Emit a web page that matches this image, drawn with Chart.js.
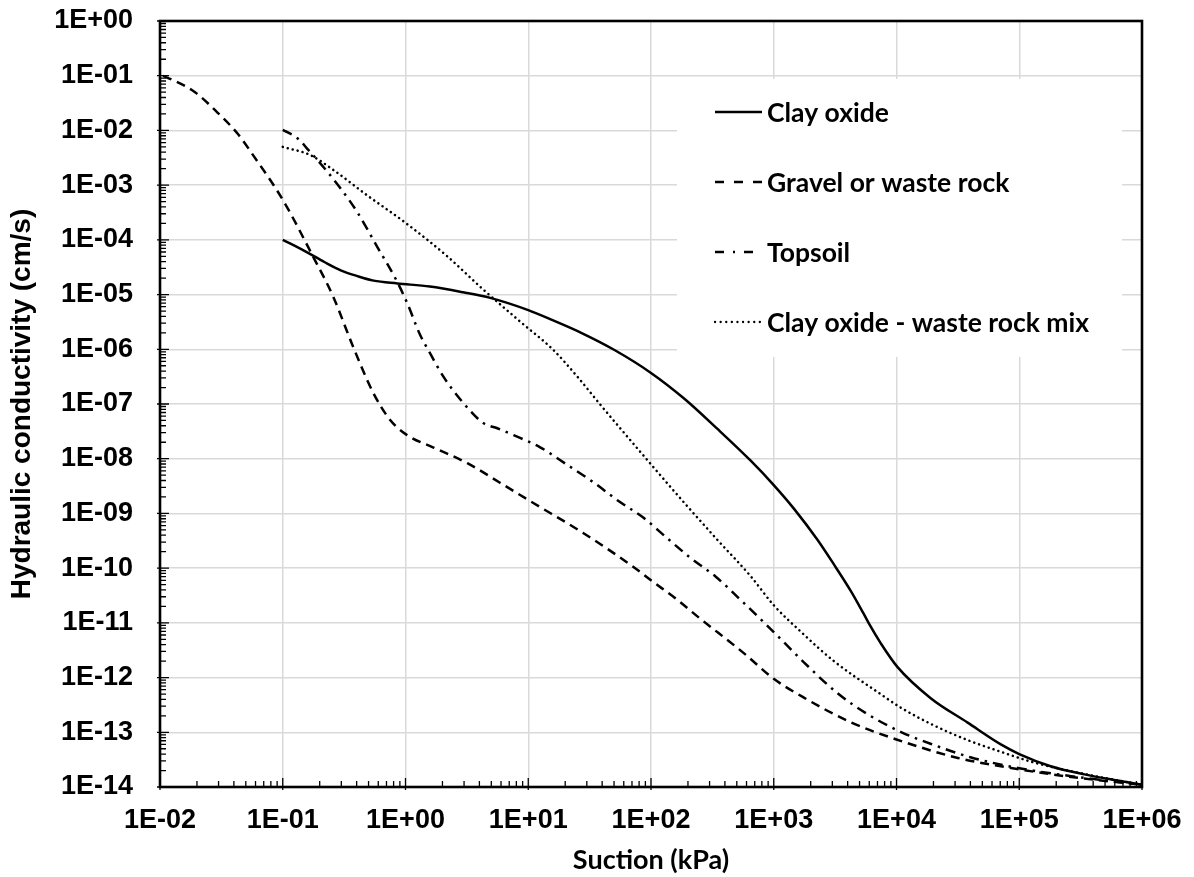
<!DOCTYPE html>
<html lang="en">
<head>
    <meta charset="UTF-8">
    <title>Hydraulic conductivity functions</title>
    <script src="https://cdn.jsdelivr.net/npm/chart.js"></script>
    <style>
        html, body { margin: 0; padding: 0; background: #fff; }
        #wrap { width: 1194px; height: 877px; }
    </style>
</head>
<body>
<div id="wrap"><canvas id="kChart" width="1194" height="877"></canvas></div>
<script>
    // suction (kPa) / hydraulic conductivity (cm/s)
    const claySuction = [0.1, 0.15, 0.22, 0.3, 0.4, 0.55, 0.857, 1.58, 2.95, 4.9, 10, 15.8, 27, 50, 100, 186, 348, 646, 1000, 1470, 2270, 3090, 4250, 5370, 6170, 7410, 10200, 19000, 38000, 70800, 100000, 180000, 340000, 650000, 1000000];
    const clayK = [1.0e-4, 6.3e-5, 3.9e-5, 2.75e-5, 2.2e-5, 1.8e-5, 1.6e-5, 1.4e-5, 1.1e-5, 8.7e-6, 5.2e-6, 3.4e-6, 2.0e-6, 9.8e-7, 3.7e-7, 1.26e-7, 3.5e-8, 9.3e-9, 3.3e-9, 1.2e-9, 3.3e-10, 1.17e-10, 3.8e-11, 1.5e-11, 8.5e-12, 4.3e-12, 1.55e-12, 4.2e-13, 1.5e-13, 6.0e-14, 4.0e-14, 2.4e-14, 1.7e-14, 1.3e-14, 1.1e-14];

    const gravelSuction = [0.0106, 0.0128, 0.0193, 0.0281, 0.0433, 0.0575, 0.1, 0.177, 0.258, 0.375, 0.546, 0.75, 1.03, 1.69, 3.19, 5.93, 11, 28, 72, 100, 165, 240, 570, 1000, 1760, 4300, 10000, 31600, 100000, 316000, 1000000];
    const gravelK = [0.099, 0.083, 0.05, 0.0234, 8.5e-3, 3.5e-3, 5.4e-4, 4.9e-5, 9.1e-6, 1.1e-6, 1.6e-7, 5.1e-8, 2.7e-8, 1.6e-8, 8.3e-9, 3.6e-9, 1.55e-9, 4.4e-10, 1.05e-10, 6.0e-11, 2.6e-11, 1.3e-11, 2.8e-12, 9.5e-13, 4.3e-13, 1.5e-13, 7.4e-14, 3.4e-14, 2.1e-14, 1.45e-14, 1.1e-14];

    const topsoilSuction = [0.1, 0.12, 0.139, 0.16, 0.184, 0.294, 0.405, 0.59, 0.857, 1.035, 1.32, 1.53, 2.03, 2.9, 4.3, 5.6, 7.6, 12.6, 21, 34, 54, 87, 136, 209, 339, 513, 1000, 1760, 3300, 5900, 11000, 20000, 40000, 100000, 316000, 1000000];
    const topsoilK = [0.0102, 8.3e-3, 6.5e-3, 4.5e-3, 3.2e-3, 8.9e-4, 3.2e-4, 7.4e-5, 1.7e-5, 6.9e-6, 1.8e-6, 9.8e-7, 3.2e-7, 1.1e-7, 4.5e-8, 3.6e-8, 2.7e-8, 1.6e-8, 7.6e-9, 3.7e-9, 1.7e-9, 8.3e-10, 3.5e-10, 1.55e-10, 6.9e-11, 2.9e-11, 6.8e-12, 1.9e-12, 5.2e-13, 2.1e-13, 1.0e-13, 5.9e-14, 3.5e-14, 2.2e-14, 1.5e-14, 1.1e-14];

    const mixSuction = [0.1, 0.1675, 0.258, 0.488, 1.0, 2.19, 4.07, 8.6, 15.8, 25, 39, 100, 186, 347, 646, 1000, 1660, 3090, 7410, 10900, 20400, 38000, 70800, 132000, 250000, 470000, 1000000];
    const mixK = [5.0e-3, 3.55e-3, 1.9e-3, 6.5e-4, 2.05e-4, 5.0e-5, 1.38e-5, 3.2e-6, 1.0e-6, 3.2e-7, 9.5e-8, 7.9e-9, 1.58e-9, 3.3e-10, 7.2e-11, 2.1e-11, 6.9e-12, 2.0e-12, 5.0e-13, 2.8e-13, 1.32e-13, 7.2e-14, 4.4e-14, 2.8e-14, 2.0e-14, 1.5e-14, 1.1e-14];

    const xTicks = [1e-2, 1e-1, 1e0, 1e1, 1e2, 1e3, 1e4, 1e5, 1e6];
    const xTickLabels = ['1E-02', '1E-01', '1E+00', '1E+01', '1E+02', '1E+03', '1E+04', '1E+05', '1E+06'];
    const yTicks = [1e-14, 1e-13, 1e-12, 1e-11, 1e-10, 1e-9, 1e-8, 1e-7, 1e-6, 1e-5, 1e-4, 1e-3, 1e-2, 1e-1, 1e0];
    const yTickLabels = ['1E-14', '1E-13', '1E-12', '1E-11', '1E-10', '1E-09', '1E-08', '1E-07', '1E-06', '1E-05', '1E-04', '1E-03', '1E-02', '1E-01', '1E+00'];

    const seriesNames = ['Clay oxide', 'Gravel or waste rock', 'Topsoil', 'Clay oxide - waste rock mix'];

    function pts(xs, ys) {
        return xs.map((x, i) => ({ x: x, y: ys[i] }));
    }

    const ARIAL = '"Liberation Sans", Arial, sans-serif';
    const CALIBRI = 'Lato, "Open Sans", sans-serif';

    // legend drawn inside the plot, on a white box that hides the grid
    const insideLegend = {
        id: 'insideLegend',
        beforeDatasetsDraw(chart) {
            const ctx = chart.ctx;
            ctx.save();
            ctx.fillStyle = '#fff';
            ctx.fillRect(677, 79, 1122 - 677, 357 - 79);
            ctx.font = 'bold 26.5px ' + CALIBRI;
            ctx.textBaseline = 'middle';
            chart.data.datasets.forEach((ds, i) => {
                const y = 112 + i * 70;
                ctx.beginPath();
                ctx.strokeStyle = '#000';
                ctx.lineWidth = 2.3;
                ctx.lineCap = ds.borderCapStyle || 'butt';
                ctx.setLineDash(ds.legendDash || []);
                ctx.moveTo(715, y);
                ctx.lineTo(762, y);
                ctx.stroke();
                ctx.setLineDash([]);
                ctx.fillStyle = '#000';
                ctx.fillText(ds.label, 767, y + 1);
            });
            ctx.restore();
        }
    };

    // frame round the plot plus major / minor tick marks pointing inwards
    const frameTicks = {
        id: 'frameTicks',
        afterDraw(chart) {
            const ctx = chart.ctx, a = chart.chartArea;
            const xs = chart.scales.x, ys = chart.scales.y;
            ctx.save();
            ctx.strokeStyle = '#000';
            ctx.lineWidth = 1.3;
            ctx.beginPath();
            for (let i = 0; i < xTicks.length; i++) {
                const px = xs.getPixelForValue(xTicks[i]);
                ctx.moveTo(px, a.bottom + 3);
                ctx.lineTo(px, a.bottom - 9);
                if (i < xTicks.length - 1) {
                    for (let m = 2; m <= 9; m++) {
                        const q = xs.getPixelForValue(xTicks[i] * m);
                        ctx.moveTo(q, a.bottom);
                        ctx.lineTo(q, a.bottom - 6);
                    }
                }
            }
            for (let i = 0; i < yTicks.length; i++) {
                const py = ys.getPixelForValue(yTicks[i]);
                ctx.moveTo(a.left - 3, py);
                ctx.lineTo(a.left + 9, py);
                if (i < yTicks.length - 1) {
                    for (let m = 2; m <= 9; m++) {
                        const q = ys.getPixelForValue(yTicks[i] * m);
                        ctx.moveTo(a.left, q);
                        ctx.lineTo(a.left + 6, q);
                    }
                }
            }
            ctx.stroke();
            ctx.lineWidth = 2.6;
            ctx.strokeRect(a.left, a.top, a.right - a.left, a.bottom - a.top);
            ctx.restore();
        }
    };

    const ctx = document.getElementById('kChart').getContext('2d');
    new Chart(ctx, {
        type: 'line',
        data: {
            datasets: [
                {
                    label: seriesNames[0],
                    data: pts(claySuction, clayK),
                    borderColor: '#000',
                    borderWidth: 2.5,
                    legendDash: []
                },
                {
                    label: seriesNames[1],
                    data: pts(gravelSuction, gravelK),
                    borderColor: '#000',
                    borderWidth: 2.5,
                    borderDash: [9, 6],
                    legendDash: [9, 10]
                },
                {
                    label: seriesNames[2],
                    data: pts(topsoilSuction, topsoilK),
                    borderColor: '#000',
                    borderWidth: 2.5,
                    borderDash: [10, 6, 2.5, 6],
                    legendDash: [9, 9, 2, 9]
                },
                {
                    label: seriesNames[3],
                    data: pts(mixSuction, mixK),
                    borderColor: '#000',
                    borderWidth: 2.5,
                    borderDash: [0.1, 5],
                    borderCapStyle: 'round',
                    legendDash: [0.1, 5.5]
                }
            ]
        },
        options: {
            responsive: false,
            animation: false,
            devicePixelRatio: 1,
            layout: { padding: { top: 21, right: 52, left: 0, bottom: 0 } },
            elements: {
                point: { radius: 0 },
                line: { cubicInterpolationMode: 'monotone', fill: false }
            },
            plugins: {
                legend: { display: false },
                tooltip: { enabled: false }
            },
            scales: {
                x: {
                    type: 'logarithmic',
                    min: 1e-2,
                    max: 1e6,
                    afterFit: s => { s.height = 90; s.paddingLeft = 0; s.paddingRight = 0; },
                    afterBuildTicks: s => { s.ticks = xTicks.map(v => ({ value: v })); },
                    grid: { color: '#d9d9d9', lineWidth: 1.5, drawTicks: false },
                    border: { display: false },
                    ticks: {
                        autoSkip: false,
                        maxRotation: 0,
                        padding: 17,
                        color: '#000',
                        font: { family: ARIAL, size: 27, weight: 'bold' },
                        callback: (v, i) => xTickLabels[i]
                    },
                    title: {
                        display: true,
                        text: 'Suction (kPa)',
                        color: '#000',
                        font: { family: CALIBRI, size: 27, weight: 'bold' },
                        padding: { top: 0, bottom: 1 }
                    }
                },
                y: {
                    type: 'logarithmic',
                    min: 1e-14,
                    max: 1,
                    afterFit: s => { s.width = 160; s.paddingTop = 0; s.paddingBottom = 0; },
                    afterBuildTicks: s => { s.ticks = yTicks.map(v => ({ value: v })); },
                    grid: { color: '#d9d9d9', lineWidth: 1.5, drawTicks: false },
                    border: { display: false },
                    ticks: {
                        autoSkip: false,
                        padding: 27,
                        color: '#000',
                        font: { family: ARIAL, size: 27, weight: 'bold' },
                        callback: (v, i) => yTickLabels[i]
                    },
                    title: {
                        display: true,
                        text: 'Hydraulic conductivity (cm/s)',
                        color: '#000',
                        font: { family: ARIAL, size: 28, weight: 'bold' },
                        padding: { top: 5, bottom: 0 }
                    }
                }
            }
        },
        plugins: [insideLegend, frameTicks]
    });
</script>
</body>
</html>
